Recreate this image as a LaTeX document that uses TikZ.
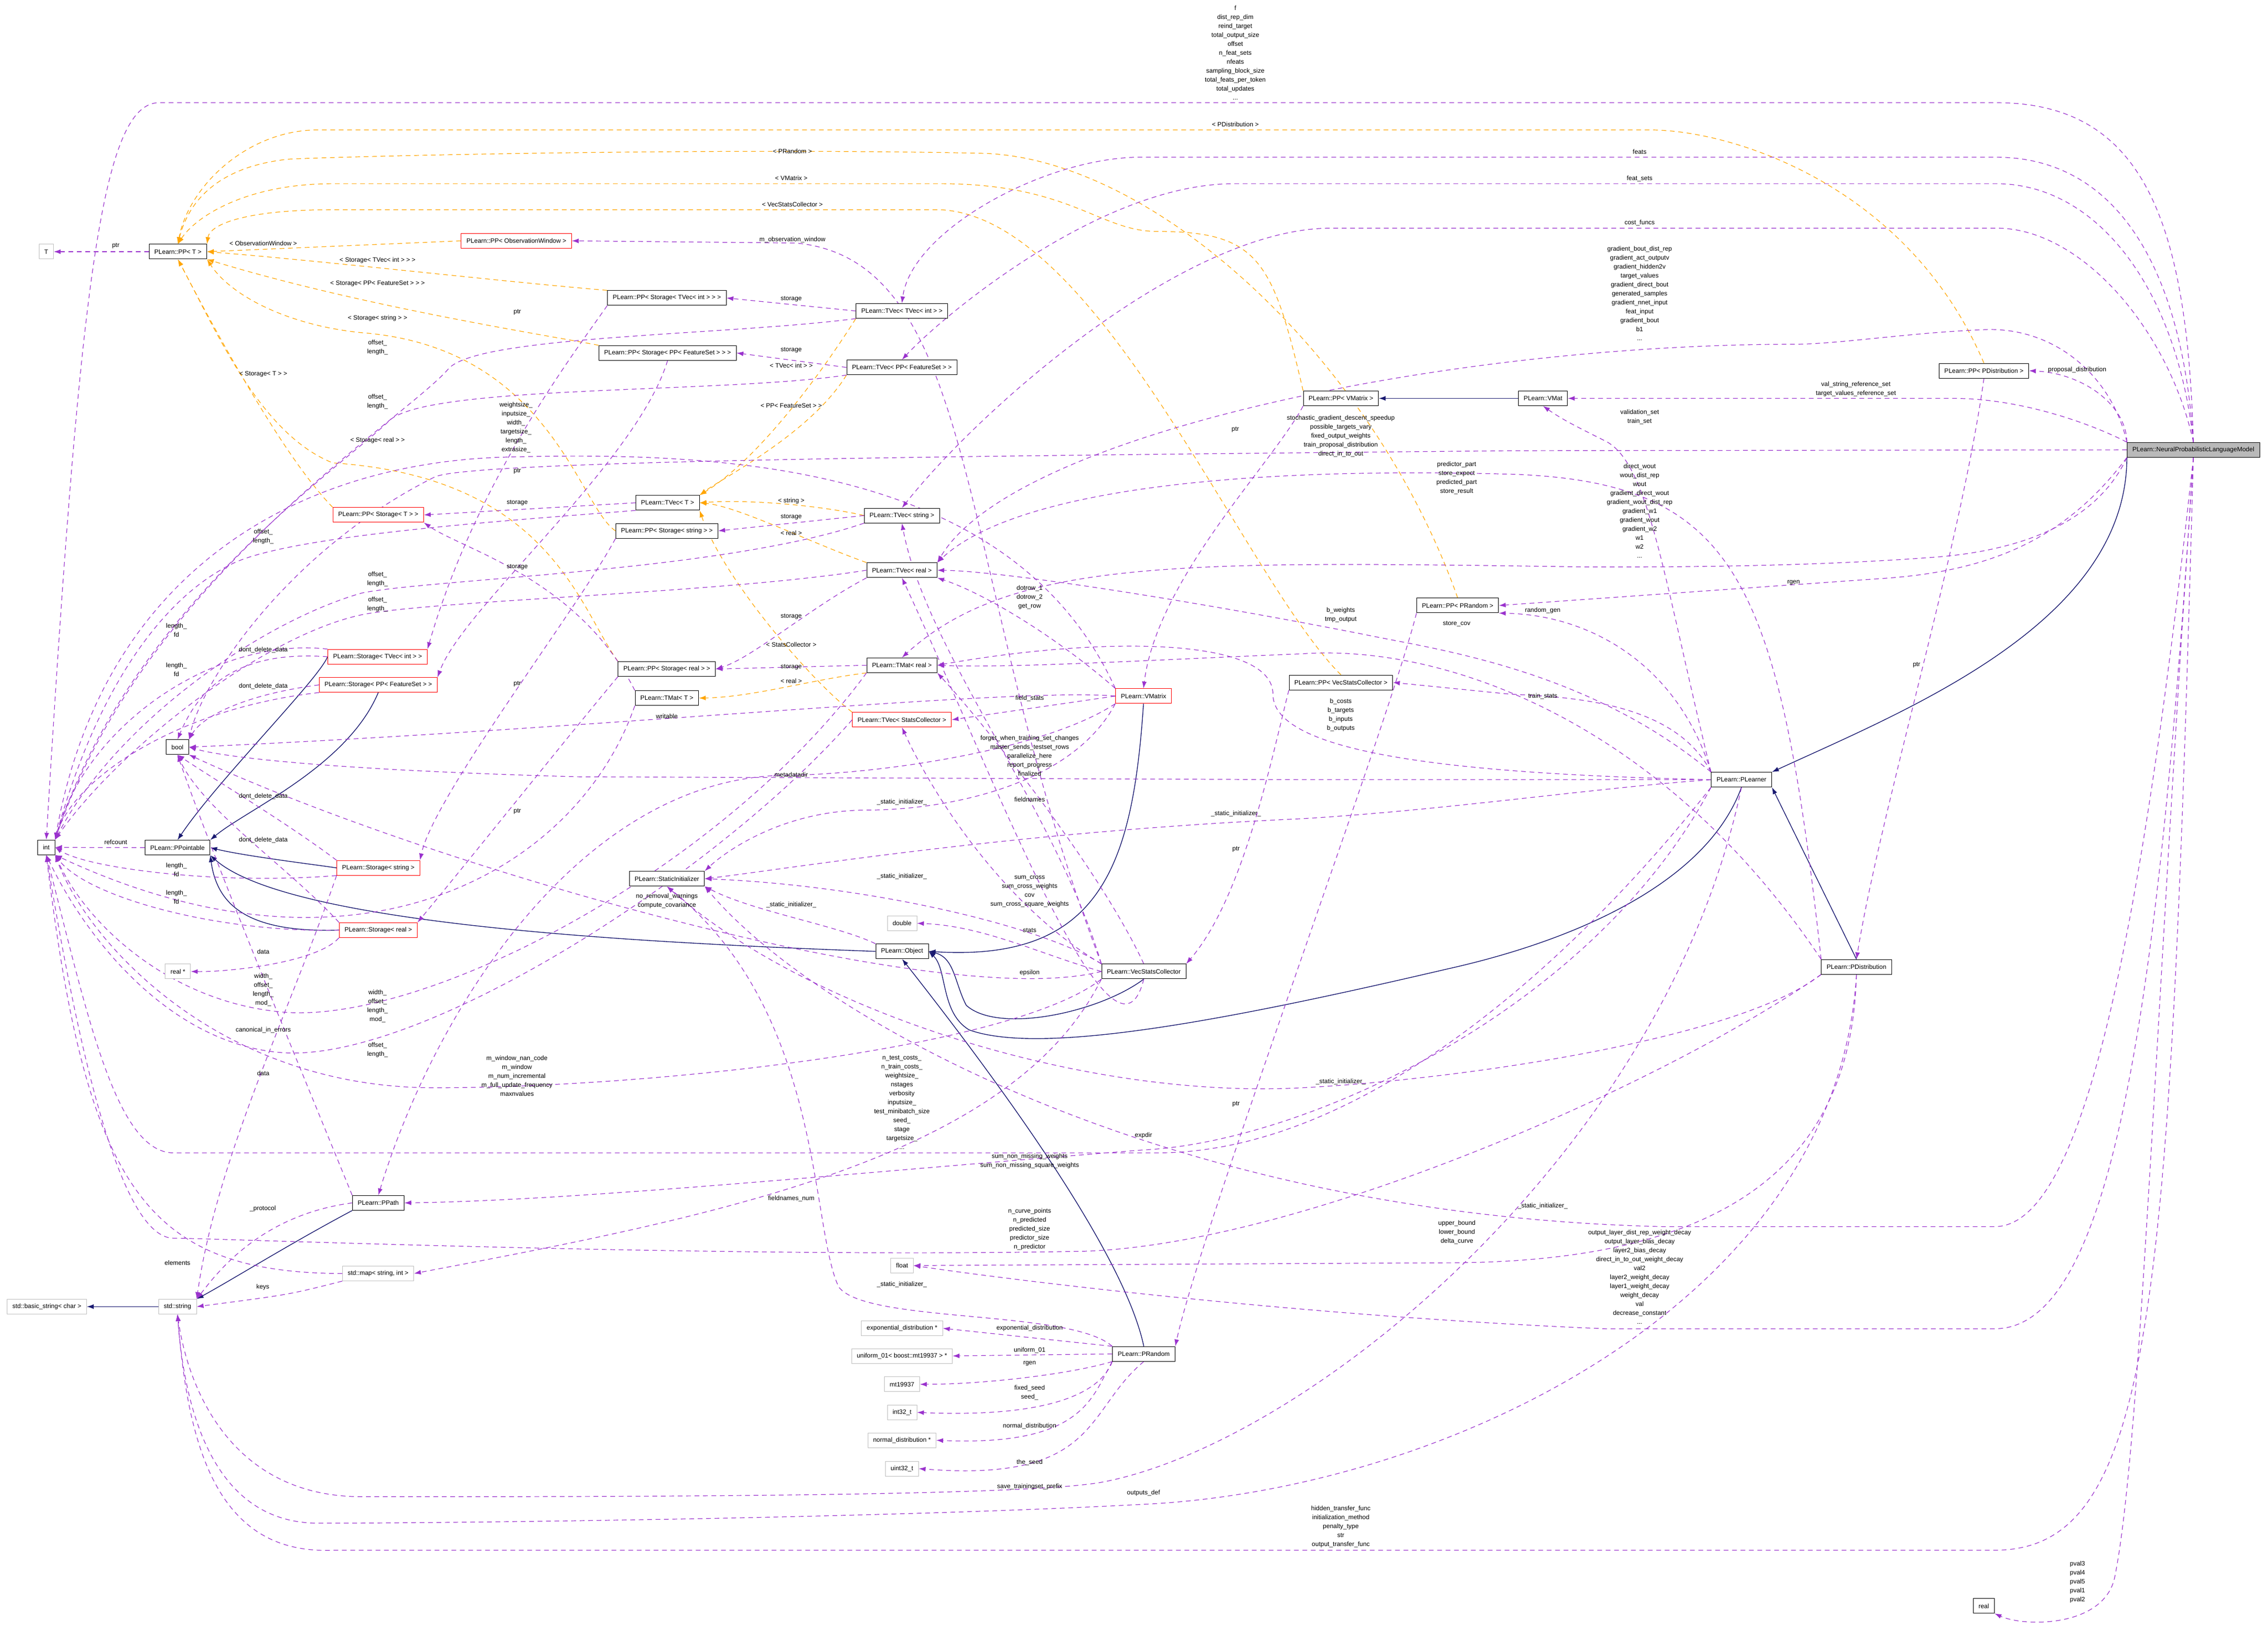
\documentclass[tikz,border=0pt]{standalone}
\usepackage{fontspec}
\setmainfont{Liberation Sans}
\usetikzlibrary{arrows.meta}
\pgfdeclarelayer{bg}
\pgfsetlayers{bg,main}
\definecolor{purp}{HTML}{9A32CD}
\definecolor{navy}{HTML}{191970}
\definecolor{orng}{HTML}{FFA500}
\definecolor{gbox}{HTML}{BFBFBF}
\def\fs{\fontsize{12}{17}\selectfont}
\tikzset{
 box/.style={draw=black,line width=1pt,fill=white,font=\fs,minimum height=28pt,inner xsep=10pt,inner ysep=0pt},
 redbox/.style={box,draw=red},
 graybox/.style={box,draw=gbox},
 mainbox/.style={box,fill=gray!55},
 use/.style={draw=purp,line width=1.2pt,dash pattern=on 9pt off 7pt,-{Latex[length=13pt,width=9pt]}},
 inh/.style={draw=navy,line width=1.4pt,-{Latex[length=13pt,width=9pt]}},
 tpl/.style={draw=orng,line width=1.2pt,dash pattern=on 9pt off 7pt,-{Latex[length=13pt,width=9pt]}},
 lbl/.style={font=\fs,align=center,inner sep=0pt}
}
\begin{document}
\begin{tikzpicture}[x=2.747pt,y=-2.747pt]
\useasboundingbox (0,0) rectangle (1567.9,1123.4);
% ---------- nodes
\node[mainbox] (N) at (1516.3,311) {PLearn::NeuralProbabilisticLanguageModel};
\node[box] (PPD) at (1371.5,256.3) {PLearn::PP< PDistribution >};
\node[box] (VMat) at (1066.7,275.4) {PLearn::VMat};
\node[box] (PVM) at (927,275.4) {PLearn::PP< VMatrix >};
\node[box] (L) at (1203.9,539) {PLearn::PLearner};
\node[box] (PD) at (1283.4,668.4) {PLearn::PDistribution};
\node[box] (real) at (1371.4,1110.2) {real};
\node[box] (PR) at (790.7,936) {PLearn::PRandom};
\node[box] (V) at (790.7,671.6) {PLearn::VecStatsCollector};
\node[box] (Obj) at (623.6,657.7) {PLearn::Object};
\node[box] (SI) at (461,607.5) {PLearn::StaticInitializer};
\node[graybox] (dbl) at (623.6,638.3) {double};
\node[graybox] (flt) at (623.6,874.9) {float};
\node[graybox] (expo) at (623.6,918.3) {exponential\_distribution *};
\node[graybox] (unif) at (623.5,937.4) {uniform\_01< boost::mt19937 > *};
\node[graybox] (mt) at (623.6,957) {mt19937};
\node[graybox] (i32) at (623.6,976.4) {int32\_t};
\node[graybox] (nd) at (623.5,995.7) {normal\_distribution *};
\node[graybox] (u32) at (623.5,1015.3) {uint32\_t};
\node[box] (PPath) at (261.5,831.6) {PLearn::PPath};
\node[graybox] (map) at (261.4,880.4) {std::map< string, int >};
\node[graybox] (SS) at (122.7,903.3) {std::string};
\node[graybox] (BS) at (32.4,903.3) {std::basic\_string< char >};
\node[box] (int) at (32,585.8) {int};
\node[box] (bool) at (122.7,516.5) {bool};
\node[graybox] (T) at (32,174) {T};
\node[box] (PPT) at (123,174) {PLearn::PP< T >};
\node[graybox] (realp) at (123,671.6) {real *};
\node[box] (PPo) at (122.7,586) {PLearn::PPointable};
\node[redbox] (SSt) at (261.5,600) {PLearn::Storage< string >};
\node[redbox] (SR) at (261.5,643) {PLearn::Storage< real >};
\node[redbox] (STI) at (261,454) {PLearn::Storage< TVec< int > >};
\node[redbox] (SFS) at (261.5,473.5) {PLearn::Storage< PP< FeatureSet > >};
\node[redbox] (PSTT) at (261.5,356) {PLearn::PP< Storage< T > >};
\node[redbox] (POW) at (357,166.5) {PLearn::PP< ObservationWindow >};
\node[box] (PST) at (461,206) {PLearn::PP< Storage< TVec< int > > >};
\node[box] (PSF) at (461.5,244) {PLearn::PP< Storage< PP< FeatureSet > > >};
\node[box] (TT) at (623.5,215) {PLearn::TVec< TVec< int > >};
\node[box] (TF) at (623.5,254) {PLearn::TVec< PP< FeatureSet > >};
\node[box] (TVT) at (461.5,347.6) {PLearn::TVec< T >};
\node[box] (PSS) at (461,367) {PLearn::PP< Storage< string > >};
\node[box] (TS) at (623.5,356.4) {PLearn::TVec< string >};
\node[box] (TR) at (623.5,394.2) {PLearn::TVec< real >};
\node[box] (PSR) at (461,462.5) {PLearn::PP< Storage< real > >};
\node[box] (TMT) at (461,482.6) {PLearn::TMat< T >};
\node[box] (TM) at (623.5,459.9) {PLearn::TMat< real >};
\node[redbox] (TSC) at (623.5,497.6) {PLearn::TVec< StatsCollector >};
\node[redbox] (M) at (790.5,481.2) {PLearn::VMatrix};
\node[box] (PVS) at (927,471.8) {PLearn::PP< VecStatsCollector >};
\node[box] (PPR) at (1007.7,418.6) {PLearn::PP< PRandom >};
% ---------- labels
\node[lbl] (l1) at (854,36.5) {f\\dist\_rep\_dim\\reind\_target\\total\_output\_size\\offset\\n\_feat\_sets\\nfeats\\sampling\_block\_size\\total\_feats\_per\_token\\total\_updates\\...};
\node[lbl] (l2) at (854,86) {< PDistribution >};
\node[lbl] (l3) at (1133.5,104.9) {feats};
\node[lbl] (l4) at (1133.5,123.5) {feat\_sets};
\node[lbl] (l5) at (1133.5,154) {cost\_funcs};
\node[lbl] (l6) at (1133.5,203) {gradient\_bout\_dist\_rep\\gradient\_act\_outputv\\gradient\_hidden2v\\target\_values\\gradient\_direct\_bout\\generated\_samples\\gradient\_nnet\_input\\feat\_input\\gradient\_bout\\b1\\...};
\node[lbl] (l7) at (1436,255.6) {proposal\_distribution};
\node[lbl] (l8) at (1283,269) {val\_string\_reference\_set\\target\_values\_reference\_set};
\node[lbl] (l9) at (1133.5,288.3) {validation\_set\\train\_set};
\node[lbl] (l10) at (926.9,301.5) {stochastic\_gradient\_descent\_speedup\\possible\_targets\_vary\\fixed\_output\_weights\\train\_proposal\_distribution\\direct\_in\_to\_out};
\node[lbl] (l11) at (854,297) {ptr};
\node[lbl] (l12) at (1007,330.5) {predictor\_part\\store\_expect\\predicted\_part\\store\_result};
\node[lbl] (l13) at (1133.5,353) {direct\_wout\\wout\_dist\_rep\\wout\\gradient\_direct\_wout\\gradient\_wout\_dist\_rep\\gradient\_w1\\gradient\_wout\\gradient\_w2\\w1\\w2\\...};
\node[lbl] (l14) at (1239.9,402.8) {rgen};
\node[lbl] (l15) at (1066.5,422.1) {random\_gen};
\node[lbl] (l16) at (926.9,425.2) {b\_weights\\tmp\_output};
\node[lbl] (l17) at (1007,431.2) {store\_cov};
\node[lbl] (l18) at (1324.9,459.6) {ptr};
\node[lbl] (l19) at (1066.5,481.4) {train\_stats};
\node[lbl] (l20) at (926.9,494.2) {b\_costs\\b\_targets\\b\_inputs\\b\_outputs};
\node[lbl] (l21) at (711.8,412.8) {dotrow\_1\\dotrow\_2\\get\_row};
\node[lbl] (l22) at (711.8,482.8) {field\_stats};
\node[lbl] (l23) at (711.8,522.6) {forget\_when\_training\_set\_changes\\master\_sends\_testset\_rows\\parallelize\_here\\report\_progress\\finalized};
\node[lbl] (l24) at (711.8,552.8) {fieldnames};
\node[lbl] (l25) at (623.5,554.5) {\_static\_initializer\_};
\node[lbl] (l26) at (854.5,562.4) {\_static\_initializer\_};
\node[lbl] (l27) at (854.5,587) {ptr};
\node[lbl] (l28) at (623.5,606) {\_static\_initializer\_};
\node[lbl] (l29) at (711.8,616.2) {sum\_cross\\sum\_cross\_weights\\cov\\sum\_cross\_square\_weights};
\node[lbl] (l30) at (547,625.7) {\_static\_initializer\_};
\node[lbl] (l31) at (711.8,643) {stats};
\node[lbl] (l32) at (711.8,672.5) {epsilon};
\node[lbl] (l33) at (547,535.6) {metadatadir};
\node[lbl] (l34) at (461,495) {writable};
\node[lbl] (l35) at (461,623) {no\_removal\_warnings\\compute\_covariance};
\node[lbl] (l36) at (623.5,762) {n\_test\_costs\_\\n\_train\_costs\_\\weightsize\_\\nstages\\verbosity\\inputsize\_\\test\_minibatch\_size\\seed\_\\stage\\targetsize\_\\...};
\node[lbl] (l37) at (926.9,747.8) {\_static\_initializer\_};
\node[lbl] (l38) at (854.5,763.3) {ptr};
\node[lbl] (l39) at (790.5,785) {expdir};
\node[lbl] (l40) at (711.8,802.5) {sum\_non\_missing\_weights\\sum\_non\_missing\_square\_weights};
\node[lbl] (l41) at (547,828.8) {fieldnames\_num};
\node[lbl] (l42) at (711.8,849.9) {n\_curve\_points\\n\_predicted\\predicted\_size\\predictor\_size\\n\_predictor};
\node[lbl] (l43) at (1007.2,851.9) {upper\_bound\\lower\_bound\\delta\_curve};
\node[lbl] (l44) at (1066.5,833.8) {\_static\_initializer\_};
\node[lbl] (l45) at (1133.5,883) {output\_layer\_dist\_rep\_weight\_decay\\output\_layer\_bias\_decay\\layer2\_bias\_decay\\direct\_in\_to\_out\_weight\_decay\\val2\\layer2\_weight\_decay\\layer1\_weight\_decay\\weight\_decay\\val\\decrease\_constant\\...};
\node[lbl] (l46) at (623.5,888) {\_static\_initializer\_};
\node[lbl] (l47) at (711.8,918.3) {exponential\_distribution};
\node[lbl] (l48) at (711.8,933.4) {uniform\_01};
\node[lbl] (l49) at (711.8,942.7) {rgen};
\node[lbl] (l50) at (711.8,962.8) {fixed\_seed\\seed\_};
\node[lbl] (l51) at (711.8,986) {normal\_distribution};
\node[lbl] (l52) at (711.8,1011) {the\_seed};
\node[lbl] (l53) at (711.8,1027.7) {save\_trainingset\_prefix};
\node[lbl] (l54) at (790.5,1032) {outputs\_def};
\node[lbl] (l55) at (926.9,1055.3) {hidden\_transfer\_func\\initialization\_method\\penalty\_type\\str\\output\_transfer\_func};
\node[lbl] (l56) at (1436.2,1093.8) {pval3\\pval4\\pval5\\pval1\\pval2};
\node[lbl] (l57) at (547.8,104.6) {< PRandom >};
\node[lbl] (l58) at (547,123) {< VMatrix >};
\node[lbl] (l59) at (547.8,141.4) {< VecStatsCollector >};
\node[lbl] (l60) at (547.8,165.8) {m\_observation\_window};
\node[lbl] (l61) at (547,206.6) {storage};
\node[lbl] (l62) at (547,242) {storage};
\node[lbl] (l63) at (547,252.8) {< TVec< int > >};
\node[lbl] (l64) at (547,280.5) {< PP< FeatureSet > >};
\node[lbl] (l65) at (547,346.4) {< string >};
\node[lbl] (l66) at (547,357.5) {storage};
\node[lbl] (l67) at (547,368.6) {< real >};
\node[lbl] (l68) at (547,426.4) {storage};
\node[lbl] (l69) at (547,445.8) {< StatsCollector >};
\node[lbl] (l70) at (547,461.3) {storage};
\node[lbl] (l71) at (547,470.6) {< real >};
\node[lbl] (l72) at (80,170) {ptr};
\node[lbl] (l73) at (182,168.4) {< ObservationWindow >};
\node[lbl] (l74) at (261,180) {< Storage< TVec< int > > >};
\node[lbl] (l75) at (261,196) {< Storage< PP< FeatureSet > > >};
\node[lbl] (l76) at (261,220) {< Storage< string > >};
\node[lbl] (l77) at (357.6,215.7) {ptr};
\node[lbl] (l78) at (261,240.2) {offset\_\\length\_};
\node[lbl] (l79) at (182,258.7) {< Storage< T > >};
\node[lbl] (l80) at (261,277.9) {offset\_\\length\_};
\node[lbl] (l81) at (356.7,295.5) {weightsize\_\\inputsize\_\\width\_\\targetsize\_\\length\_\\extrasize\_};
\node[lbl] (l82) at (261,304.6) {< Storage< real > >};
\node[lbl] (l83) at (357.6,325.6) {ptr};
\node[lbl] (l84) at (357.6,347.6) {storage};
\node[lbl] (l85) at (182,371) {offset\_\\length\_};
\node[lbl] (l86) at (357.6,392) {storage};
\node[lbl] (l87) at (261,400.3) {offset\_\\length\_};
\node[lbl] (l88) at (261,417.9) {offset\_\\length\_};
\node[lbl] (l89) at (122,435.8) {length\_\\fd};
\node[lbl] (l90) at (182,449.4) {dont\_delete\_data};
\node[lbl] (l91) at (122,462.8) {length\_\\fd};
\node[lbl] (l92) at (357.6,473) {ptr};
\node[lbl] (l93) at (182,474.5) {dont\_delete\_data};
\node[lbl] (l94) at (182,550.7) {dont\_delete\_data};
\node[lbl] (l95) at (357.6,561) {ptr};
\node[lbl] (l96) at (80,582) {refcount};
\node[lbl] (l97) at (182,580.6) {dont\_delete\_data};
\node[lbl] (l98) at (122,601.3) {length\_\\fd};
\node[lbl] (l99) at (122,620.3) {length\_\\fd};
\node[lbl] (l100) at (182,658) {data};
\node[lbl] (l101) at (182,684.5) {width\_\\offset\_\\length\_\\mod\_};
\node[lbl] (l102) at (261,695.6) {width\_\\offset\_\\length\_\\mod\_};
\node[lbl] (l103) at (182,712) {canonical\_in\_errors};
\node[lbl] (l104) at (261,725.7) {offset\_\\length\_};
\node[lbl] (l105) at (357.4,743.7) {m\_window\_nan\_code\\m\_window\\m\_num\_incremental\\m\_full\_update\_frequency\\maxnvalues};
\node[lbl] (l106) at (182,742) {data};
\node[lbl] (l107) at (181.7,835.7) {\_protocol};
\node[lbl] (l108) at (122.7,873.2) {elements};
\node[lbl] (l109) at (181.7,890) {keys};
\begin{pgfonlayer}{bg}
% ---------- inheritance
\draw[inh] (VMat) -- (PVM);
\draw[inh] (N.south west) .. controls (1470,430) and (1320,490) .. (L.north east);
\draw[inh] (L.south) .. controls (1180,610) and (1090,650) .. (1000,670) .. controls (850,705) and (720,730) .. (670,712) .. controls (650,700) and (655,670) .. (Obj.east);
\draw[inh] (PD.north) -- (L.south east);
\draw[inh] (M.south) .. controls (783,600) and (760,665) .. (Obj.east);
\draw[inh] (V.south) .. controls (760,700) and (690,715) .. (668,695) .. controls (660,680) and (660,662) .. (Obj.east);
\draw[inh] (PR.north) .. controls (778,870) and (700,760) .. (Obj.south);
\draw[inh] (STI.west) .. controls (220,470) and (150,540) .. (PPo.north);
\draw[inh] (SFS.south) .. controls (240,530) and (170,560) .. (PPo.north east);
\draw[inh] (SSt.west) .. controls (220,598) and (170,592) .. (PPo.east);
\draw[inh] (SR.west) .. controls (170,645) and (150,625) .. (PPo.south east);
\draw[inh] (Obj.west) .. controls (450,652) and (200,640) .. (PPo.south east);
\draw[inh] (PPath.south west) .. controls (200,860) and (160,885) .. (SS.north east);
\draw[inh] (SS.west) -- (BS.east);
% ---------- template (orange)
\draw[tpl] (POW.west) -- (PPT.east);
\draw[tpl] (PST.north west) .. controls (350,195) and (220,180) .. (PPT.east);
\draw[tpl] (PSF.north west) .. controls (380,232) and (250,212) .. (PPT.south east);
\draw[tpl] (PSS.west) .. controls (400,350) and (380,240) .. (250,230) .. controls (200,225) and (160,205) .. (PPT.south east);
\draw[tpl] (PSR.north west) .. controls (400,420) and (380,330) .. (230,320) .. controls (180,300) and (150,230) .. (PPT.south);
\draw[tpl] (PSTT.north west) .. controls (200,320) and (160,250) .. (PPT.south);
\draw[tpl] (PPD.north) .. controls (1320,130) and (1200,89.8) .. (1140,89.8) -- (220,89.8) .. controls (170,89.8) and (130,130) .. (PPT.north);
\draw[tpl] (PPR.north) .. controls (950,250) and (800,110) .. (680,106) .. controls (500,102) and (250,107.7) .. (200,110) .. controls (150,115) and (130,140) .. (PPT.north);
\draw[tpl] (PVM.north west) .. controls (880,180) and (870,160) .. (800,160) .. controls (760,160) and (740,127) .. (650,127) -- (230,127) .. controls (170,127) and (135,150) .. (PPT.north);
\draw[tpl] (PVS.north) .. controls (860,400) and (760,150) .. (650,145) -- (230,145) .. controls (170,145) and (145,155) .. (PPT.north east);
\draw[tpl] (TT.south west) .. controls (560,270) and (520,320) .. (TVT.north east);
\draw[tpl] (TF.south west) .. controls (560,300) and (500,330) .. (TVT.north east);
\draw[tpl] (TS.west) .. controls (570,350) and (520,345) .. (TVT.east);
\draw[tpl] (TR.north west) .. controls (560,375) and (510,350) .. (TVT.east);
\draw[tpl] (TSC.north west) .. controls (560,470) and (500,400) .. (TVT.south east);
\draw[tpl] (TM.south west) .. controls (560,470) and (520,482) .. (TMT.east);
% ---------- usage from N
\draw[use] (N.north) .. controls (1512,150) and (1480,71) .. (1380,71) -- (110,71) .. controls (70,71) and (55,200) .. (int.north);
\draw[use] (N.north) .. controls (1508,180) and (1460,108.7) .. (1380,108.7) -- (786,108.7) .. controls (720,110) and (630,160) .. (TT.north);
\draw[use] (N.north) .. controls (1505,200) and (1450,127) .. (1380,127) -- (853,127) .. controls (760,127) and (650,220) .. (TF.north);
\draw[use] (N.north) .. controls (1500,230) and (1440,157.7) .. (1380,157.7) -- (920,157.7) .. controls (820,158) and (680,280) .. (TS.north);
\draw[use] (N.north west) .. controls (1460,260) and (1420,225) .. (1370,228) .. controls (1320,230) and (1270,238) .. (1240,238) .. controls (1000,238) and (700,300) .. (TR.north east);
\draw[use] (N.north west) .. controls (1470,280) and (1440,258) .. (PPD.east);
\draw[use] (N.north west) .. controls (1450,295) and (1400,275.4) .. (1350,275.4) -- (VMat.east);
\draw[use] (N.west) -- (1045,311.6) .. controls (700,315) and (320,318) .. (300,330) .. controls (200,380) and (140,470) .. (bool.north east);
\draw[use] (N.south west) .. controls (1450,360) and (1400,380) .. (1340,385) .. controls (1250,392) and (1150,392) .. (1100,392) .. controls (820,388) and (700,385) .. (TM.north);
\draw[use] (N.south west) .. controls (1430,370) and (1380,395) .. (1300,400) -- (PPR.east);
\draw[use] (N.south) .. controls (1490,700) and (1480,1000) .. (1462,1090) .. controls (1455,1125) and (1400,1125) .. (real.south east);
\draw[use] (N.south) .. controls (1492,700) and (1460,918.6) .. (1379,918.6) -- (1110,918.6) .. controls (900,910) and (700,885) .. (flt.east);
\draw[use] (N.south) .. controls (1500,900) and (1490,1071.7) .. (1379,1071.7) -- (230,1071.7) .. controls (150,1075) and (130,1000) .. (SS.south);
\draw[use] (N.south) .. controls (1480,650) and (1440,848) .. (1379,848) -- (1150,848) .. controls (800,840) and (560,700) .. (SI.south east);
% ---------- usage from PLearner / PDistribution
\draw[use] (PPD.south) .. controls (1355,380) and (1300,560) .. (PD.north);
\draw[use] (L.north west) .. controls (1150,400) and (1140,320) .. (1110,305) .. controls (1090,295) and (1080,290) .. (VMat.south);
\draw[use] (L.north west) .. controls (1160,490) and (1100,482) .. (1045,480) -- (PVS.east);
\draw[use] (L.north west) .. controls (1160,460) and (1100,425) .. (PPR.south east);
\draw[use] (L.south west) .. controls (1100,700) and (900,790) .. (790,795) .. controls (600,810) and (400,830) .. (PPath.east);
\draw[use] (L.west) -- (900,539) -- (400,537) .. controls (250,533) and (160,525) .. (bool.east);
\draw[use] (L.west) .. controls (1100,545) and (1000,560) .. (900,566) .. controls (700,575) and (550,600) .. (SI.east);
\draw[use] (L.south west) .. controls (1100,650) and (950,797) .. (800,797) -- (120,797) .. controls (80,797) and (60,700) .. (int.south);
\draw[use] (L.south) .. controls (1150,800) and (900,1000) .. (760,1025) .. controls (700,1035) and (400,1034.7) .. (250,1034.7) .. controls (160,1034.7) and (130,960) .. (SS.south);
\draw[use] (L.west) .. controls (1000,535) and (880,520) .. (880,480) .. controls (880,440) and (760,440) .. (TM.east);
\draw[use] (L.north west) .. controls (1100,465) and (1000,450) .. (950,440) .. controls (850,420) and (700,395) .. (TR.east);
\draw[use] (PD.north west) .. controls (1230,400) and (1200,335) .. (1050,328) .. controls (850,322) and (700,340) .. (TR.north east);
\draw[use] (PD.north west) .. controls (1150,500) and (1000,445) .. (900,452) .. controls (800,456) and (700,462) .. (TM.east);
\draw[use] (PD.south west) .. controls (1150,750) and (900,860) .. (750,865) .. controls (500,870) and (150,856) .. (120,856) .. controls (80,856) and (50,700) .. (int.south);
\draw[use] (PD.south) .. controls (1280,800) and (1200,873) .. (1000,873) -- (flt.east);
\draw[use] (PD.south west) .. controls (1200,720) and (1000,747) .. (900,752) .. controls (750,760) and (560,700) .. (SI.south);
\draw[use] (PD.south) .. controls (1270,900) and (1000,1030) .. (790,1040) .. controls (600,1050) and (300,1053) .. (220,1053) .. controls (150,1053) and (128,980) .. (SS.south);
% ---------- usage from VMatrix
\draw[use] (PVM.south west) .. controls (880,320) and (800,400) .. (M.north);
\draw[use] (M.west) -- (TSC.east);
\draw[use] (M.north west) .. controls (700,320) and (500,312) .. (350,316) .. controls (200,320) and (70,400) .. (int.north east);
\draw[use] (M.west) .. controls (700,475) and (400,505) .. (bool.east);
\draw[use] (M.south west) .. controls (720,520) and (600,536) .. (540,536) .. controls (400,540) and (300,700) .. (PPath.north);
\draw[use] (M.south west) .. controls (740,545) and (650,560) .. (600,560) .. controls (540,560) and (500,590) .. (SI.north east);
\draw[use] (M.north west) .. controls (730,440) and (680,410) .. (TR.south east);
% ---------- usage from VecStatsCollector
\draw[use] (PVS.south west) .. controls (880,520) and (860,620) .. (V.north east);
\draw[use] (V.north west) .. controls (730,560) and (640,450) .. (TS.south);
\draw[use] (V.north west) .. controls (700,630) and (650,560) .. (TSC.south);
\draw[use] (V.north) .. controls (760,600) and (680,500) .. (TM.south east);
\draw[use] (V.west) .. controls (720,660) and (680,640) .. (dbl.east);
\draw[use] (V.north west) .. controls (720,640) and (600,612) .. (SI.east);
\draw[use] (V.west) .. controls (650,700) and (300,600) .. (bool.south east);
\draw[use] (V.south west) .. controls (700,725) and (450,752) .. (300,752) .. controls (150,752) and (60,650) .. (int.south east);
\draw[use] (V.north west) .. controls (660,400) and (680,180) .. (550,168) -- (POW.east);
\draw[use] (V.south west) .. controls (700,800) and (500,840) .. (map.east);
\draw[use] (V.south) .. controls (770,760) and (680,520) .. (TR.south);
% ---------- usage from PRandom
\draw[use] (PPR.south west) .. controls (960,500) and (830,850) .. (PR.north east);
\draw[use] (PR.north west) -- (expo.east);
\draw[use] (PR.west) -- (unif.east);
\draw[use] (PR.south west) .. controls (740,950) and (680,957) .. (mt.east);
\draw[use] (PR.south west) .. controls (760,965) and (720,980) .. (i32.east);
\draw[use] (PR.south west) .. controls (755,965) and (750,1000) .. (nd.east);
\draw[use] (PR.south) .. controls (750,975) and (760,1025) .. (u32.east);
\draw[use] (PR.north west) .. controls (740,905) and (600,915) .. (580,890) .. controls (560,850) and (570,700) .. (SI.south);
\draw[use] (Obj.north west) .. controls (580,640) and (520,630) .. (SI.south east);
% ---------- TVec / TMat / Storage family
\draw[use] (TT.west) -- (PST.east);
\draw[use] (TF.west) -- (PSF.east);
\draw[use] (TS.west) -- (PSS.east);
\draw[use] (TR.south west) .. controls (560,420) and (520,455) .. (PSR.east);
\draw[use] (TM.west) -- (PSR.east);
\draw[use] (TT.south west) .. controls (500,232) and (330,232) .. (310,255) .. controls (280,290) and (100,400) .. (int.north east);
\draw[use] (TF.south west) .. controls (500,272) and (300,266) .. (270,290) .. controls (240,320) and (90,420) .. (int.north east);
\draw[use] (TVT.south west) .. controls (350,360) and (200,370) .. (160,390) .. controls (100,420) and (60,500) .. (int.north east);
\draw[use] (TS.south west) .. controls (500,395) and (300,400) .. (250,410) .. controls (180,430) and (80,500) .. (int.north east);
\draw[use] (TR.west) .. controls (500,410) and (300,415) .. (250,425) .. controls (180,440) and (80,520) .. (int.north east);
\draw[use] (TMT.south west) .. controls (400,600) and (250,690) .. (int.south east);
\draw[use] (TM.south west) .. controls (500,600) and (300,705) .. (200,700) .. controls (120,695) and (60,640) .. (int.south east);
\draw[use] (TSC.west) .. controls (500,600) and (300,730) .. (200,728) .. controls (120,725) and (60,650) .. (int.south);
\draw[use] (PPT.west) -- (T.east);
\draw[use] (TVT.west) -- (PSTT.east);
\draw[use] (TMT.north west) .. controls (400,400) and (320,380) .. (PSTT.south east);
\draw[use] (PST.south west) .. controls (400,240) and (330,330) .. (STI.north east);
\draw[use] (PSF.south) .. controls (440,320) and (320,420) .. (SFS.north east);
\draw[use] (PSS.south west) .. controls (400,420) and (300,550) .. (SSt.north east);
\draw[use] (PSR.south west) .. controls (400,500) and (320,600) .. (SR.north east);
\draw[use] (PPo.west) -- (int.east);
\draw[use] (STI.west) .. controls (170,450) and (140,470) .. (bool.north);
\draw[use] (SFS.west) .. controls (170,480) and (140,495) .. (bool.north east);
\draw[use] (SSt.north west) .. controls (200,570) and (150,540) .. (bool.south);
\draw[use] (SR.north west) .. controls (200,600) and (140,560) .. (bool.south);
\draw[use] (STI.north west) .. controls (150,440) and (60,500) .. (int.north east);
\draw[use] (SFS.south west) .. controls (120,490) and (50,540) .. (int.north east);
\draw[use] (SSt.south west) .. controls (150,612) and (60,600) .. (int.east);
\draw[use] (SR.west) .. controls (150,645) and (60,620) .. (int.south east);
\draw[use] (SR.south west) .. controls (220,665) and (160,672) .. (realp.east);
\draw[use] (SSt.south west) .. controls (200,700) and (150,800) .. (SS.north east);
\draw[use] (PPath.west) .. controls (180,840) and (150,880) .. (SS.north east);
\draw[use] (PPath.north west) .. controls (200,720) and (150,600) .. (bool.south);
\draw[use] (map.south west) .. controls (200,895) .. (SS.east);
\draw[use] (map.west) .. controls (100,880) and (60,820) .. (int.south);
\end{pgfonlayer}
\end{tikzpicture}
\end{document}
